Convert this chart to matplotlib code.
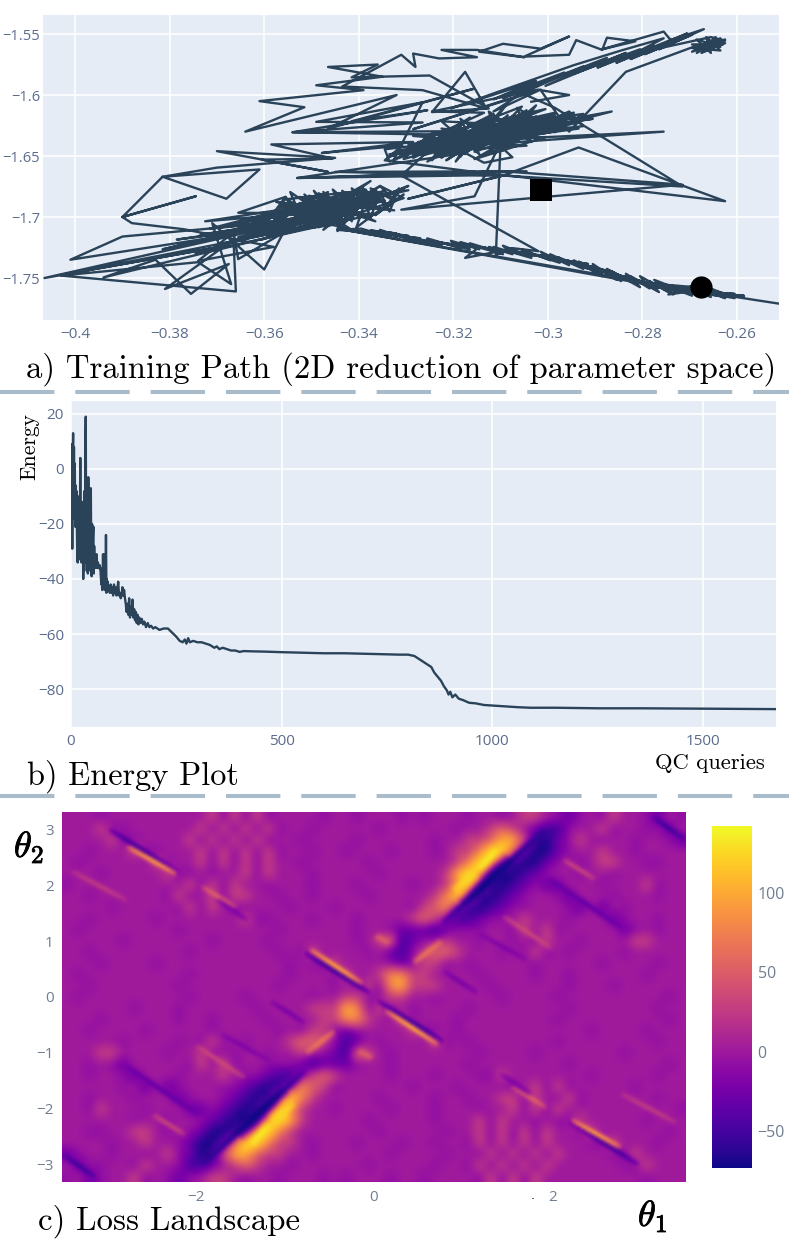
import numpy as np
import matplotlib
matplotlib.use('Agg')
import matplotlib.pyplot as plt
import matplotlib.patheffects as pe
from matplotlib.lines import Line2D

# Training path
tail_x = [-.2511,-.262,-.2585,-.2675,-.2605,-.2705,-.264,-.2745,-.2665,-.2775,-.2695,-.279,-.2725,-.2815,-.2755,-.284,-.278,-.286,-.281,-.2885]
tail_y = [-1.771,-1.7645,-1.7645,-1.7615,-1.763,-1.7605,-1.761,-1.76,-1.7585,-1.7575,-1.76,-1.7565,-1.757,-1.7525,-1.7575,-1.7485,-1.7555,-1.7465,-1.7525,-1.7435]
band_x = [-.2835,-.291,-.286,-.2935,-.289,-.2965,-.2915,-.2995,-.295,-.3025,-.2975,-.3055,-.3,-.3085,-.303,-.3115,-.3065,-.3145,-.3175,-.3095,-.3165,-.313,-.3205,-.3165,-.3245,-.3205,-.3285,-.324,-.3315,-.327,-.3345,-.3295,-.3375,-.332,-.3415]
band_y = [-1.7495,-1.7405,-1.7455,-1.7385,-1.7425,-1.7355,-1.7385,-1.7335,-1.7365,-1.7315,-1.7335,-1.7305,-1.732,-1.7285,-1.7305,-1.7265,-1.7295,-1.7245,-1.7335,-1.7275,-1.7235,-1.7255,-1.7225,-1.724,-1.72,-1.7225,-1.7185,-1.7205,-1.7155,-1.7175,-1.7135,-1.7155,-1.711,-1.7135,-1.7115]
band2_x = [-.2605,-.2675,-.2645,-.2725,-.2695,-.2775,-.2745,-.2805,-.2785,-.2835,-.2815,-.2875,-.2855,-.2905,-.2885,-.2935,-.2915,-.2975,-.2955,-.3015,-.2995,-.3055,-.3035,-.3095,-.3075,-.3125,-.3105,-.3165,-.3145,-.3205,-.3185,-.3255,-.3235,-.3305,-.3285,-.3355,-.3335,-.3405,-.3385,-.3445]
band2_y = [-1.7665,-1.7555,-1.7645,-1.7565,-1.7635,-1.7515,-1.7615,-1.7485,-1.7585,-1.7465,-1.7545,-1.7425,-1.7515,-1.7385,-1.7465,-1.7365,-1.7425,-1.7335,-1.7395,-1.7285,-1.7355,-1.7265,-1.7325,-1.7235,-1.7305,-1.7245,-1.7285,-1.7215,-1.7265,-1.7195,-1.7255,-1.7175,-1.7225,-1.7155,-1.7195,-1.7105,-1.7155,-1.7115,-1.7125,-1.7105]
band3_x = [-.3395,-.3315,-.3335,-.3225,-.3255,-.3165,-.3185,-.3095,-.3115,-.3035,-.3055,-.2975,-.2995,-.2925,-.2945,-.2885,-.2905,-.2845,-.2865,-.2805,-.2825,-.2765,-.2785,-.2735,-.2755,-.2695,-.2715,-.2655,-.2685,-.2625,-.2655,-.2585,-.2625,-.2695,-.2745,-.2655,-.2785,-.2685]
band3_y = [-1.7095,-1.7185,-1.7125,-1.7235,-1.7185,-1.7265,-1.7205,-1.7305,-1.7245,-1.7335,-1.7275,-1.7375,-1.7305,-1.7425,-1.7355,-1.7485,-1.7405,-1.7525,-1.7445,-1.7575,-1.7485,-1.7615,-1.7525,-1.7635,-1.7555,-1.7645,-1.7575,-1.7655,-1.7585,-1.7665,-1.7605,-1.7655,-1.7635,-1.7565,-1.7635,-1.7585,-1.7545,-1.7625]
cluster_a_x = [-.3445,-.3385,-.3475,-.3355,-.3505,-.3405,-.3535,-.3375,-.3495,-.3345,-.3545,-.3425,-.3565,-.3465,-.3515,-.3395,-.3555,-.3435,-.3485,-.3365,-.3525,-.3415,-.3575,-.3455,-.3505,-.3385,-.3465,-.3325,-.3445,-.3305,-.3495,-.3375,-.3535,-.3425,-.3585,-.3475,-.3515,-.3355,-.3465,-.3295,-.3435,-.3345,-.3545,-.3445,-.3565,-.3395,-.3485,-.3415,-.3625,-.3465,-.3675,-.3525,-.3715,-.3465,-.3645,-.3405,-.3735,-.3495,-.3605,-.3375,-.3695,-.3445,-.3785,-.3535,-.3655,-.3455]
cluster_a_y = [-1.7095,-1.6775,-1.7105,-1.6745,-1.7085,-1.6815,-1.7065,-1.6705,-1.7035,-1.6785,-1.6985,-1.68,-1.6965,-1.6795,-1.7055,-1.6785,-1.6855,-1.7075,-1.6805,-1.7035,-1.6835,-1.7105,-1.6945,-1.6995,-1.6825,-1.7005,-1.6865,-1.6945,-1.6905,-1.6775,-1.6975,-1.6845,-1.6955,-1.6855,-1.6985,-1.6875,-1.6945,-1.6815,-1.7015,-1.6745,-1.6965,-1.6865,-1.7025,-1.6845,-1.6915,-1.6925,-1.6915,-1.7015,-1.7045,-1.6895,-1.7075,-1.6905,-1.7095,-1.6985,-1.7125,-1.6955,-1.7145,-1.7005,-1.7185,-1.6895,-1.7225,-1.7015,-1.7185,-1.7045,-1.7165,-1.7065]
cluster_a2_x = [-.3525,-.3495,-.3475,-.3455,-.3435,-.3415,-.3395,-.3375,-.3355,-.3335,-.3315,-.3345,-.3305,-.3365,-.3325,-.3405,-.3385,-.3445,-.3425,-.3485,-.3465,-.3525,-.3505,-.3565,-.3545,-.3585,-.3555,-.3605,-.3535,-.3635,-.3445,-.3725,-.3295,-.3815,-.3355,-.3745,-.3365,-.3655]
cluster_a2_y = [-1.6885,-1.7005,-1.6825,-1.7045,-1.6805,-1.7035,-1.6795,-1.7005,-1.6795,-1.6955,-1.6765,-1.6935,-1.6815,-1.6985,-1.6855,-1.7085,-1.6855,-1.7115,-1.6875,-1.7085,-1.6865,-1.7065,-1.6845,-1.7035,-1.6855,-1.7075,-1.6835,-1.7095,-1.6935,-1.7155,-1.6945,-1.7035,-1.678,-1.7265,-1.6855,-1.73,-1.6975,-1.6965]
cluster_a3_x = [-.3555,-.3525,-.3545,-.3485,-.3515,-.3465,-.3495,-.3445,-.3475,-.3425,-.3455,-.3405,-.3435,-.3385,-.3415,-.3365,-.3395,-.3345,-.3375,-.3325,-.3355,-.3305,-.3415,-.3515,-.3445,-.3555,-.3475,-.3575,-.3395,-.3505,-.3365,-.3465]
cluster_a3_y = [-1.6835,-1.6975,-1.6795,-1.6955,-1.6815,-1.6985,-1.6785,-1.7005,-1.6795,-1.6975,-1.6775,-1.6945,-1.6785,-1.6925,-1.6765,-1.6905,-1.6755,-1.6895,-1.6765,-1.6865,-1.6745,-1.6845,-1.6985,-1.6895,-1.7025,-1.6925,-1.7005,-1.6875,-1.6965,-1.6905,-1.6895,-1.6855]
left_x = [-.372,-.401,-.39,-.352,-.4065,-.368,-.403,-.345,-.394,-.383,-.3755,-.3675,-.381,-.3665,-.366,-.403,-.374,-.367,-.371,-.36,-.356,-.3655,-.3665,-.374,-.358,-.377,-.388,-.39,-.3745,-.39,-.3815,-.368,-.361,-.3815,-.37,-.345,-.37,-.3465,-.3605,-.3455]
left_y = [-1.7175,-1.735,-1.716,-1.7025,-1.75,-1.7235,-1.7475,-1.7035,-1.7495,-1.735,-1.763,-1.7385,-1.759,-1.7185,-1.761,-1.748,-1.737,-1.755,-1.705,-1.743,-1.713,-1.7345,-1.7125,-1.736,-1.7245,-1.71,-1.705,-1.7,-1.683,-1.7,-1.667,-1.685,-1.661,-1.667,-1.6595,-1.6515,-1.646,-1.663,-1.653,-1.652]
mid_x = [-.3585,-.3285,-.3478,-.3308,-.3345,-.3095,-.345,-.3045,-.353,-.3175,-.3135,-.3075,-.3135,-.354,-.3265,-.349,-.3265]
mid_y = [-1.6405,-1.6385,-1.6475,-1.6415,-1.6535,-1.666,-1.663,-1.6625,-1.668,-1.6475,-1.6555,-1.651,-1.6295,-1.6305,-1.6225,-1.622,-1.606]
cluster_b_x = [-.3325,-.3165,-.3285,-.3105,-.3255,-.3065,-.3205,-.3025,-.3175,-.2985,-.3225,-.2955,-.3095,-.3225,-.3055,-.3245,-.3015,-.3275,-.2975,-.3195,-.3045,-.3235,-.3085,-.3305,-.3125,-.3265,-.3065,-.3205,-.3005,-.3145,-.2945,-.3095,-.3195,-.2985,-.3155,-.3035,-.3265,-.3125,-.3185,-.3085,-.3155,-.3045,-.3215,-.3115,-.3285,-.3025,-.3135,-.2925,-.2955,-.3075,-.3025,-.3065,-.2985,-.3125,-.2935,-.3195,-.2995,-.3315,-.2865,-.3135,-.2755,-.3225,-.3335]
cluster_b_y = [-1.6525,-1.6255,-1.6515,-1.6185,-1.6545,-1.6175,-1.6495,-1.6135,-1.6465,-1.6165,-1.6335,-1.6185,-1.6405,-1.6275,-1.6355,-1.6315,-1.6305,-1.6385,-1.6255,-1.6395,-1.6145,-1.6435,-1.6215,-1.6465,-1.6255,-1.6495,-1.6285,-1.6425,-1.6195,-1.6375,-1.6145,-1.6305,-1.6345,-1.6245,-1.6465,-1.6185,-1.6425,-1.6185,-1.6505,-1.6065,-1.6425,-1.6125,-1.6535,-1.6285,-1.6445,-1.6285,-1.6345,-1.6255,-1.6135,-1.6345,-1.6085,-1.6215,-1.6145,-1.6365,-1.6225,-1.6445,-1.6305,-1.6455,-1.6135,-1.6405,-1.63,-1.6385,-1.6545]
cluster_b2_x = [-.3345,-.2965,-.3285,-.3045,-.3335,-.2935,-.3225,-.3145,-.3185,-.3095,-.3125,-.3035,-.3065,-.2985,-.2925,-.3085,-.3005,-.3195,-.3045,-.3245,-.3165,-.3285,-.3115,-.3185,-.3025,-.3135,-.2975,-.3235,-.2905,-.3295,-.3005,-.3155,-.3075,-.3225,-.3065,-.3165]
cluster_b2_y = [-1.6445,-1.6265,-1.6335,-1.6415,-1.6485,-1.6275,-1.6215,-1.6485,-1.6195,-1.6455,-1.6135,-1.6385,-1.6105,-1.6305,-1.6155,-1.6235,-1.6115,-1.6285,-1.6165,-1.6455,-1.6185,-1.6485,-1.6155,-1.6425,-1.6175,-1.6495,-1.6215,-1.6375,-1.6195,-1.6405,-1.6345,-1.6525,-1.6345,-1.6495,-1.6255,-1.6365]
cluster_b3_x = [-.3305,-.3255,-.3285,-.3215,-.3245,-.3185,-.3225,-.3145,-.3195,-.3115,-.3175,-.3085,-.3145,-.3055,-.3315,-.3235,-.3335,-.3185,-.3275,-.3135,-.3245,-.302,-.3285,-.3015,-.3115,-.3055,-.2985]
cluster_b3_y = [-1.6525,-1.6335,-1.6495,-1.6305,-1.6535,-1.6255,-1.6515,-1.6245,-1.6545,-1.6195,-1.6485,-1.6165,-1.6445,-1.6095,-1.6485,-1.6365,-1.6505,-1.6305,-1.6395,-1.6145,-1.6135,-1.5955,-1.628,-1.5955,-1.6135,-1.5985,-1.6105]
spray_x = [-.2715,-.3095,-.3295,-.3095,-.2935,-.2625,-.3095,-.353,-.3095,-.2715,-.331,-.3155,-.31,-.311,-.3075,-.302,-.331,-.3215]
spray_y = [-1.675,-1.666,-1.685,-1.666,-1.643,-1.687,-1.6655,-1.668,-1.6625,-1.6735,-1.694,-1.683,-1.639,-1.731,-1.7255,-1.728,-1.666,-1.6325]
top_x = [-.354,-.3255,-.3415,-.3158,-.3465,-.332,-.364,-.3515,-.361,-.339,-.349,-.335,-.3465,-.336,-.3415,-.325,-.3125,-.3245,-.3175,-.313,-.3265,-.3435,-.331,-.328,-.3285,-.323,-.315,-.3225,-.315,-.305,-.3145,-.3095,-.3015,-.2955,-.305,-.2955,-.294,-.2885,-.2875,-.2815,-.2885,-.2755,-.274,-.267]
top_y = [-1.6305,-1.6125,-1.6215,-1.595,-1.6275,-1.6,-1.63,-1.61,-1.605,-1.596,-1.592,-1.585,-1.577,-1.575,-1.5855,-1.584,-1.611,-1.614,-1.581,-1.611,-1.596,-1.593,-1.567,-1.577,-1.566,-1.57,-1.569,-1.563,-1.563,-1.569,-1.5645,-1.558,-1.562,-1.552,-1.5685,-1.567,-1.555,-1.563,-1.553,-1.556,-1.5625,-1.548,-1.555,-1.546]
upper_x = [-.2765,-.2695,-.2795,-.2715,-.2825,-.2745,-.2855,-.2775,-.2895,-.2805,-.2945,-.2835,-.3005,-.2875,-.3095,-.2925,-.3055,-.2965,-.3115,-.3025,-.3205,-.2945,-.2845,-.2755,-.2835,-.2705,-.2785,-.2655]
upper_y = [-1.5625,-1.5505,-1.5665,-1.5535,-1.5705,-1.5565,-1.5735,-1.5595,-1.5775,-1.5625,-1.5825,-1.5655,-1.5925,-1.5695,-1.6025,-1.5765,-1.5985,-1.5815,-1.6035,-1.5885,-1.611,-1.5755,-1.5635,-1.5535,-1.5695,-1.5495,-1.5635,-1.5525]
cluster_c_x = [-.2625,-.2695,-.2635,-.2685,-.2645,-.2675,-.2625,-.2695,-.2635,-.2665,-.2655,-.2685,-.2635,-.2695,-.263,-.2675,-.2625,-.2685,-.2835,-.2955,-.3015,-.2955,-.3035]
cluster_c_y = [-1.5555,-1.5645,-1.5535,-1.5655,-1.5525,-1.5655,-1.5575,-1.5615,-1.5635,-1.5525,-1.5655,-1.5545,-1.5605,-1.5585,-1.5585,-1.5625,-1.5545,-1.5595,-1.581,-1.63,-1.596,-1.6,-1.6055]
start_x, start_y = -.3015, -1.678
end_x, end_y = -.2677, -1.7575

path_xticks = [-.4, -.38, -.36, -.34, -.32, -.3, -.28, -.26]
path_xlabels = ['\u22120.4', '\u22120.38', '\u22120.36', '\u22120.34', '\u22120.32', '\u22120.3', '\u22120.28', '\u22120.26']
path_yticks = [-1.55, -1.6, -1.65, -1.7, -1.75]
path_ylabels = ['\u22121.55', '\u22121.6', '\u22121.65', '\u22121.7', '\u22121.75']

# Energy curve
energy_x_early = [1,2,3,4,5,6,7,8,9,10,11,12,13,14,15,16,17,18,19,20,21,22,23,24,25,26,27,28,29,30,31,32,33,34,35,36,37,38,39,40,41,42,43,44,45,46,47,48,49,50,51,52,53,54,55,56,57,58,59,60,61,62,63,64,65,66,67,68,70,72,73,74,75,76,77,78,79,80,81,82,83,84,85,86,87,88,90,92,94,96,98,100,102,104,106,108,110,112,114,116,118,120]
energy_y_early = [9,-12,-29,3,13,-18,8,-14,2,-21,-6,-13,-8,-22,-33,-34,-10,-33,-15,-30,-26,4,-28,-14,-34,-22,-30,-12,-40,-18,-37,-8,-34,5,19,-30,-12,-37,-20,-38,-3,-27,-17,-35,-22,-37,-7,-30,-39,-20,-36,-25,-21,-38,-28,-35,-31,-36,-33,-35,-31,-36,-35,-34,-36,-36,-36,-35,-37,-42,-36,-44,-40,-31,-43,-34,-31,-44,-38,-42,-24,-45,-40,-43,-41,-44,-43,-45,-42,-45,-43,-46,-42,-45,-43,-46,-44,-41,-46,-45,-47,-46]
energy_x_late = [122,124,126,128,130,132,134,136,138,140,142,144,146,148,150,152,154,156,158,160,162,165,168,171,174,178,182,186,190,195,200,210,220,230,240,250,258,265,270,274,278,282,290,300,310,320,330,340,346,352,360,370,380,390,400,410,430,460,500,550,600,650,700,750,780,800,815,825,835,845,855,862,870,878,885,892,896,900,905,912,920,930,945,960,980,1000,1030,1060,1090,1150,1250,1350,1450,1550,1673]
energy_y_late = [-43,-46,-44,-47,-49,-52,-49,-53,-47,-54,-50,-53,-47.5,-54,-51,-55,-52,-56,-53,-56.5,-54,-56,-54.5,-56.5,-55.5,-57.5,-56,-57.5,-57,-58,-57.5,-58.5,-58,-58,-59.5,-61,-62.5,-63,-62,-63.5,-61.5,-63,-62.5,-63,-63,-63.5,-64,-65,-64.5,-65.5,-65,-65.5,-66,-66,-66.5,-66.2,-66.3,-66.4,-66.6,-66.8,-67,-67,-67.2,-67.4,-67.5,-67.5,-68,-69,-70,-71,-72,-74,-75.5,-77,-79,-80.5,-82,-81,-83,-82,-83.5,-84,-85,-85.2,-85.8,-86,-86.3,-86.6,-86.8,-86.8,-87,-87,-87.1,-87.2,-87.3]
energy_xticks = [0, 500, 1000, 1500]
energy_yticks = [20, 0, -20, -40, -60, -80]
energy_ylabels = ['20', '0', '\u221220', '\u221240', '\u221260', '\u221280']

# Loss landscape, upper half of the grid (the picture repeats it through the origin)
# one digit per cell, see landscape_levels
landscape_levels = [-70, -50, -28, -8, 1, 28, 55, 80, 105, 135]
landscape_top = [
  '44434444 44444535 35344443 44344434 34443443 45543234 35443243',
  '44453344 44445353 53534434 44443444 44434456 54211344 53443324',
  '44445334 44453535 35344344 44344444 43445568 85102354 34434432',
  '44344453 34445353 53534434 43444344 43455799 62002344 54434444',
  '43444444 53445353 53544344 44434444 44457985 10023434 55443344',
  '44434444 45334344 53544434 44443444 44589830 01234434 43444444',
  '34444444 44453535 44344434 44344443 44579710 12322444 34445344',
  '44344444 43534535 54434434 44434444 45798101 23443244 43444344',
  '44443444 44353543 34443444 34444443 56731012 33444324 24344444',
  '44344444 34444444 53344434 44344445 65311233 45444344 42344344',
  '43444444 44344444 44434444 44344322 21233344 35453444 44234344',
  '44444344 44444344 44344444 44345612 34544344 34354434 44455444',
  '44344444 44434444 44434354 44434213 56654443 43534344 44344444',
  '44434444 34444444 44443433 54444323 55343444 44344444 34444344',
  '43444444 44434444 44443444 35445775 54444344 44344344 44443444',
  '44344444 44344444 44434444 34353785 55444434 44444344 43444444',
]
landscape_middle = '43444444 44434444 34444434 45533554 43444443 44443444 44444434'
# thin ridges, each also repeated through the origin: end points and value
ridge_x0 = [-2.98, -2.78, -1.94, -1.77, -0.785, -0.72, 0.77, 1.0, 0.89, 1.17, 1.96, 2.13, 1.45, 1.17, 0.77, 3.14, -3.41, 0.44, 0.01]
ridge_y0 = [3.03, 2.72, 2.0, 1.77, 0.81, 0.86, 1.33, 1.65, 1.92, 2.28, 2.15, 2.49, 1.47, 1.16, 0.48, 3.26, 2.28, 0.61, 1.11]
ridge_x1 = [-2.19, -2.22, -1.55, -1.42, -0.045, -0.13, 1.93, 1.55, 1.17, 1.39, 2.80, 2.49, 2.0, 1.73, 1.17, 3.5, -2.78, 0.77, 0.18]
ridge_y1 = [2.24, 2.22, 1.61, 1.38, 0.07, 0.24, 3.03, 2.5, 2.28, 2.67, 1.24, 2.13, 0.88, 0.66, 0.07, 2.85, 1.74, 1.02, 0.97]
ridge_values = [-60, 105, 60, -20, -65, 110, -70, -72, 125, 135, -35, 40, 40, -20, -25, -55, 30, 70, 55]
ridge_widths = [2.3, 2.3, 2.2, 2.5, 2.3, 2.3, 3.5, 7, 4, 4, 2.5, 2.2, 2.2, 2.2, 2.2, 2.5, 2.2, 3, 3]
theta1_ticks = [-2, 0, 2]
theta1_labels = ['\u22122', '0', '2']
theta2_ticks = [3, 2, 1, 0, -1, -2, -3]
theta2_labels = ['3', '2', '1', '0', '\u22121', '\u22122', '\u22123']
cbar_ticks = [100, 50, 0, -50]
cbar_labels = ['100', '50', '0', '\u221250']

W, H = 789, 1253
BG = '#E5ECF6'
LINE = '#2A4359'
TICK = '#5B6C8C'

plt.rcParams['font.family'] = ['Open Sans', 'DejaVu Sans']
plt.rcParams['mathtext.fontset'] = 'cm'

fig = plt.figure(figsize=(W / 100, H / 100), dpi=100)

def px_axes(left, top, right, bottom):
  return fig.add_axes([left / W, 1 - bottom / H, (right - left) / W, (bottom - top) / H])

def px_text(x, y, s, size, **kw):
  kw.setdefault('family', 'cmr10')
  return fig.text(x / W, 1 - y / H, s, fontsize=size, color='black', va='baseline', **kw)

def style_panel(ax):
  ax.set_facecolor(BG)
  for side in ax.spines.values():
    side.set_visible(False)
  ax.grid(True, color='white', lw=1.1)
  ax.set_axisbelow(True)
  ax.tick_params(length=0, labelcolor=TICK, labelsize=11, pad=5)

def soften(z, n):
  k = np.ones(n) / n
  p = np.pad(z, n, mode='edge')
  p = np.apply_along_axis(np.convolve, 0, p, k, mode='same')
  p = np.apply_along_axis(np.convolve, 1, p, k, mode='same')
  return p[n:-n, n:-n]

# a) training path
ax = px_axes(43, 15, 779, 320)
style_panel(ax)
path_x = tail_x + band_x + band2_x + band3_x + cluster_a_x + cluster_a2_x + cluster_a3_x + left_x + mid_x + cluster_b_x + cluster_b2_x + cluster_b3_x + spray_x + top_x + upper_x + cluster_c_x
path_y = tail_y + band_y + band2_y + band3_y + cluster_a_y + cluster_a2_y + cluster_a3_y + left_y + mid_y + cluster_b_y + cluster_b2_y + cluster_b3_y + spray_y + top_y + upper_y + cluster_c_y
ax.plot(path_x, path_y, color=LINE, lw=1.7, solid_joinstyle='round')
ax.plot(start_x, start_y, 's', color='black', ms=16, mew=0)
ax.plot(end_x, end_y, 'o', color='black', ms=16, mew=0)
ax.set_xlim(-.4068, -.2511)
ax.set_ylim(-1.7844, -1.5344)
ax.set_xticks(path_xticks, path_xlabels)
ax.set_yticks(path_yticks, path_ylabels)
ax.tick_params(axis='y', labelsize=10.5, pad=2)

# b) energy plot
ax = px_axes(71, 401, 776, 727)
style_panel(ax)
ax.plot(energy_x_early + energy_x_late, energy_y_early + energy_y_late, color=LINE, lw=1.7)
ax.set_xlim(0, 1673)
ax.set_ylim(-93.8, 24.7)
ax.set_xticks(energy_xticks, [str(v) for v in energy_xticks])
ax.set_yticks(energy_yticks, energy_ylabels)

# c) loss landscape: coarse cells, softened, then the ridges laid in
rows = [[int(c) for c in r.replace(' ', '')] for r in landscape_top]
middle = [int(c) for c in landscape_middle.replace(' ', '')]
top = np.array(rows)
cells = np.vstack([top, [middle], top[::-1, ::-1]])
values = np.array(landscape_levels, dtype=float)[cells]
z = soften(soften(np.kron(values, np.ones((4, 4))), 5), 3)
gx = np.linspace(-3.5, 3.5, z.shape[1])
gy = np.linspace(3.32, -3.32, z.shape[0])
X, Y = np.meshgrid(gx, gy)
sx, sy = 89.14, 55.8   # pixels per unit
for sign in (1, -1):
  for x0, y0, x1, y1, v, w in zip(ridge_x0, ridge_y0, ridge_x1, ridge_y1, ridge_values, ridge_widths):
    x0, y0, x1, y1 = sign * x0, sign * y0, sign * x1, sign * y1
    dx, dy = (x1 - x0) * sx, (y1 - y0) * sy
    t = np.clip(((X - x0) * sx * dx + (Y - y0) * sy * dy) / (dx * dx + dy * dy), 0, 1)
    dist = np.hypot((X - x0) * sx - t * dx, (Y - y0) * sy - t * dy)
    a = np.exp(-(dist / w) ** 2) * np.sin(np.pi * t) ** 0.35
    z = z * (1 - a) + v * a

ax = px_axes(62, 812, 686, 1182)
im = ax.imshow(z, cmap='plasma', vmin=-73, vmax=142, aspect='auto', interpolation='bicubic', extent=[-3.5, 3.5, -3.32, 3.32])
for side in ax.spines.values():
  side.set_visible(False)
ax.tick_params(length=0, labelcolor='#6F7F90', labelsize=11, pad=6)
ax.set_xticks(theta1_ticks, theta1_labels)
ax.set_yticks(theta2_ticks, theta2_labels)

cax = px_axes(712, 826, 752, 1168)
cb = fig.colorbar(im, cax=cax)
cb.outline.set_visible(False)
cb.set_ticks(cbar_ticks, labels=cbar_labels)
cax.tick_params(length=0, labelcolor='#6F7F90', labelsize=11.5, pad=4)

# captions
px_text(26, 378, 'a) Training Path (2D reduction of parameter space)', 23.6)
px_text(27, 785, 'b) Energy Plot', 23.3)
px_text(38, 1230, 'c) Loss Landscape', 23.6)
px_text(655, 769, 'QC queries', 16.3)
fig.text(30 / W, 1 - 447 / H, 'Energy', fontsize=15.5, family='cmr10', rotation=90, ha='center', va='center')

bold = [pe.withStroke(linewidth=0.6, foreground='black')]
px_text(14, 857, r'$\theta_2$', 26, family='DejaVu Sans').set_path_effects(bold)
px_text(638, 1226, r'$\theta_1$', 26, family='DejaVu Sans').set_path_effects(bold)
px_text(531, 1199, '.', 9, family='DejaVu Sans')

# dashed separators
for y in (391.5, 795.5):
  fig.add_artist(Line2D([0, 1], [1 - y / H, 1 - y / H], transform=fig.transFigure, color='#A9BCCB', lw=2.9, linestyle=(0, (13.5, 5.2))))

fig.savefig('out.png', dpi=100)
